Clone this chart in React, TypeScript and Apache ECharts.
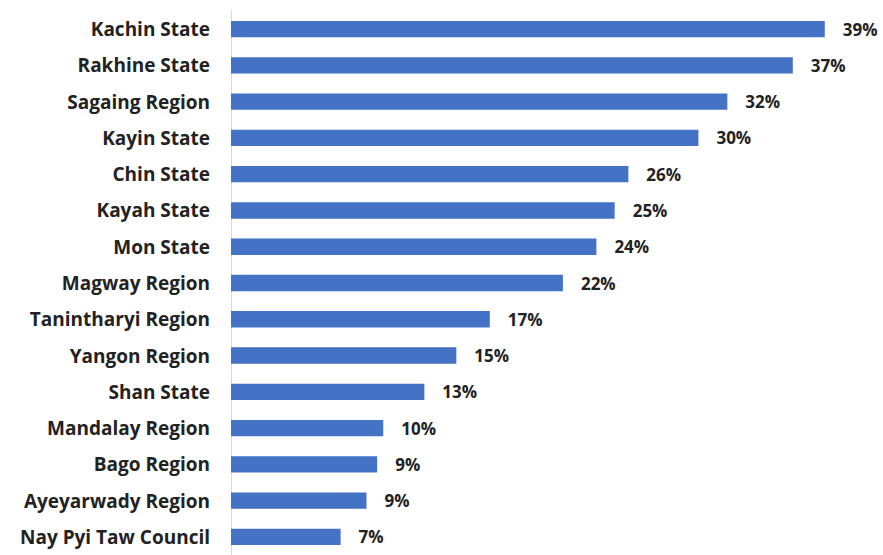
import React, { useEffect, useRef } from "react";
import * as echarts from "echarts";

const categories = [
  "Kachin State",
  "Rakhine State",
  "Sagaing Region",
  "Kayin State",
  "Chin State",
  "Kayah State",
  "Mon State",
  "Magway Region",
  "Tanintharyi Region",
  "Yangon Region",
  "Shan State",
  "Mandalay Region",
  "Bago Region",
  "Ayeyarwady Region",
  "Nay Pyi Taw Council",
];

const values = [39.0, 36.9, 32.6, 30.7, 26.1, 25.2, 24.0, 21.8, 17.0, 14.8, 12.7, 10.0, 9.6, 8.9, 7.2];
const valueLabels = ["39%", "37%", "32%", "30%", "26%", "25%", "24%", "22%", "17%", "15%", "13%", "10%", "9%", "9%", "7%"];

export default function App() {
  const ref = useRef<HTMLDivElement>(null);
  useEffect(() => {
    if (!ref.current) return;
    const chart = echarts.init(ref.current, undefined, { renderer: "svg" });
    chart.setOption({
      animation: false,
      backgroundColor: "#ffffff",
      grid: { left: 231, top: 11, width: 609, height: 549, containLabel: false },
      xAxis: {
        type: "value",
        min: 0,
        max: 40,
        show: false,
      },
      yAxis: {
        type: "category",
        data: categories,
        inverse: true,
        axisLine: { show: true, lineStyle: { color: "#d9d9d9", width: 1 } },
        axisTick: { show: false },
        axisLabel: {
          margin: 21,
          color: "#222222",
          fontFamily: "Open Sans",
          fontWeight: "bold",
          fontSize: 19,
        },
      },
      series: [
        {
          type: "bar",
          data: values,
          barCategoryGap: "55%",
          itemStyle: { color: "#4472C4" },
          label: {
            show: true,
            position: "right",
            distance: 18,
            color: "#222222",
            fontFamily: "Open Sans",
            fontWeight: "bold",
            fontSize: 17,
            formatter: (p: any) => valueLabels[p.dataIndex],
          },
        },
      ],
    });
    return () => chart.dispose();
  }, []);
  return (
    <div
      ref={ref}
      style={{ position: "fixed", left: 0, top: 0, width: 883, height: 555, background: "#fff" }}
    />
  );
}
